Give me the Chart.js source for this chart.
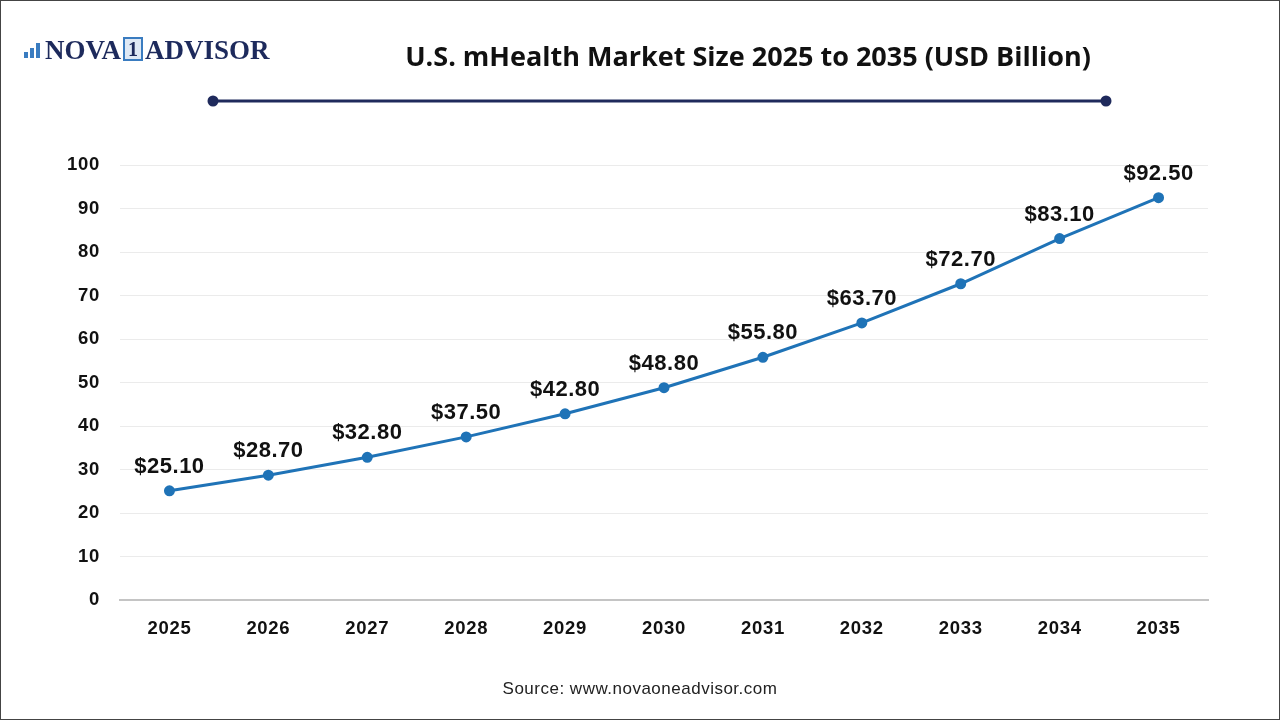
<!DOCTYPE html>
<html>
<head>
<meta charset="utf-8">
<script src="https://cdn.jsdelivr.net/npm/chart.js@4"></script>
<style>
  html, body { margin: 0; padding: 0; background: #fff; }
  #page { position: relative; width: 1280px; height: 720px; overflow: hidden; }
  #frame { position: absolute; left: 0; top: 0; width: 1280px; height: 720px; box-sizing: border-box; border: 1px solid #444; pointer-events: none; }
  #logo { position: absolute; left: 20px; top: 35px; font-family: "Liberation Serif", "DejaVu Serif", serif; font-weight: bold; font-size: 27px; color: #1d2a5c; white-space: nowrap; }
  #logo .one { display: inline-block; border: 2px solid #3a7cc0; background: #dfe9f5; color: #1d2a5c; font-size: 20px; line-height: 20px; padding: 0 3px; margin: 0 2px; vertical-align: 3px; }
  #logo .bars { display: inline-block; width: 24px; height: 20px; position: relative; vertical-align: -1px; margin-right: 1px; }
  #logo .bars i { position: absolute; bottom: 2px; width: 4px; background: #3a7cc0; }
  #title { position: absolute; left: 300px; width: 896px; top: 37px; text-align: center; font-family: "Open Sans", "Liberation Sans", sans-serif; font-weight: bold; font-size: 27px; color: #111; }
  #source { position: absolute; left: 0; width: 1280px; top: 679px; text-align: center; font-family: "Liberation Sans", Arial, sans-serif; font-size: 17px; letter-spacing: 0.5px; color: #222; }
  #wrap { position: absolute; left: 0; top: 0; width: 1280px; height: 720px; }
</style>
</head>
<body>
<div id="page">
  <div id="wrap"><canvas id="myChart" width="1280" height="720"></canvas></div>
  <div id="logo"><span class="bars"><i style="left:4px;height:6px"></i><i style="left:10px;height:10px"></i><i style="left:16px;height:15px"></i></span>NOVA<span class="one">1</span>ADVISOR</div>
  <div id="title">U.S. mHealth Market Size 2025 to 2035 (USD Billion)</div>
  <div id="source">Source: www.novaoneadvisor.com</div>
  <div id="frame"></div>
</div>
<script>
  var years = ["2025", "2026", "2027", "2028", "2029", "2030", "2031", "2032", "2033", "2034", "2035"];
  var marketSize = [25.1, 28.7, 32.8, 37.5, 42.8, 48.8, 55.8, 63.7, 72.7, 83.1, 92.5];
  var yTicks = [0, 10, 20, 30, 40, 50, 60, 70, 80, 90, 100];

  var labelFont = "'Liberation Sans', Arial, sans-serif";

  // 文字間隔（全体）
  var spacing = {
    id: 'spacing',
    beforeDraw: function(chart) { chart.ctx.letterSpacing = "0.7px"; }
  };

  // 上の飾り線
  var headerLine = {
    id: 'headerLine',
    afterDraw: function(chart) {
      var ctx = chart.ctx;
      ctx.save();
      ctx.strokeStyle = "#1f2a5c";
      ctx.fillStyle = "#1f2a5c";
      ctx.lineWidth = 3;
      ctx.beginPath();
      ctx.moveTo(213, 101);
      ctx.lineTo(1106, 101);
      ctx.stroke();
      ctx.beginPath();
      ctx.arc(213, 101, 5.5, 0, Math.PI * 2);
      ctx.fill();
      ctx.beginPath();
      ctx.arc(1106, 101, 5.5, 0, Math.PI * 2);
      ctx.fill();
      ctx.restore();
    }
  };

  // 値ラベル
  var valueLabels = {
    id: 'valueLabels',
    afterDatasetsDraw: function(chart) {
      var ctx = chart.ctx;
      var meta = chart.getDatasetMeta(0);
      ctx.save();
      ctx.font = "bold 22px " + labelFont;
      ctx.letterSpacing = "0.5px";
      ctx.fillStyle = "#111";
      ctx.textAlign = "center";
      ctx.textBaseline = "middle";
      meta.data.forEach(function(pt, i) {
        ctx.fillText("$" + marketSize[i].toFixed(2), pt.x, pt.y - 24);
      });
      ctx.restore();
    }
  };

  var ctx = document.getElementById('myChart').getContext('2d');
  var myChart = new Chart(ctx, {
    type: 'line',
    data: {
      labels: years,
      datasets: [{
        data: marketSize,
        borderColor: "#1f73b7",
        backgroundColor: "#1f73b7",
        borderWidth: 3,
        pointRadius: 4,
        pointHoverRadius: 4,
        tension: 0
      }]
    },
    options: {
      responsive: false,
      animation: false,
      maintainAspectRatio: false,
      devicePixelRatio: 1,
      layout: { padding: { left: 20, right: 72, top: 165, bottom: 75 } },
      plugins: { legend: { display: false }, tooltip: { enabled: false } },
      scales: {
        x: {
          offset: true,
          grid: { display: false, drawTicks: false },
          border: { display: true, color: "#c4c4c4", width: 2 },
          ticks: { padding: 18, color: "#111", font: { family: labelFont, size: 18.5, weight: 'bold' } },
          afterFit: function(scale) { scale.height = 45; }
        },
        y: {
          min: 0,
          max: 100,
          afterBuildTicks: function(scale) { scale.ticks = yTicks.map(function(v) { return { value: v }; }); },
          grid: { color: "#ebebeb", lineWidth: 1, drawTicks: false },
          border: { display: false },
          ticks: { padding: 20, color: "#111", font: { family: labelFont, size: 18.5, weight: 'bold' } },
          afterFit: function(scale) { scale.width = 100; }
        }
      }
    },
    plugins: [spacing, headerLine, valueLabels]
  });
</script>
</body>
</html>
